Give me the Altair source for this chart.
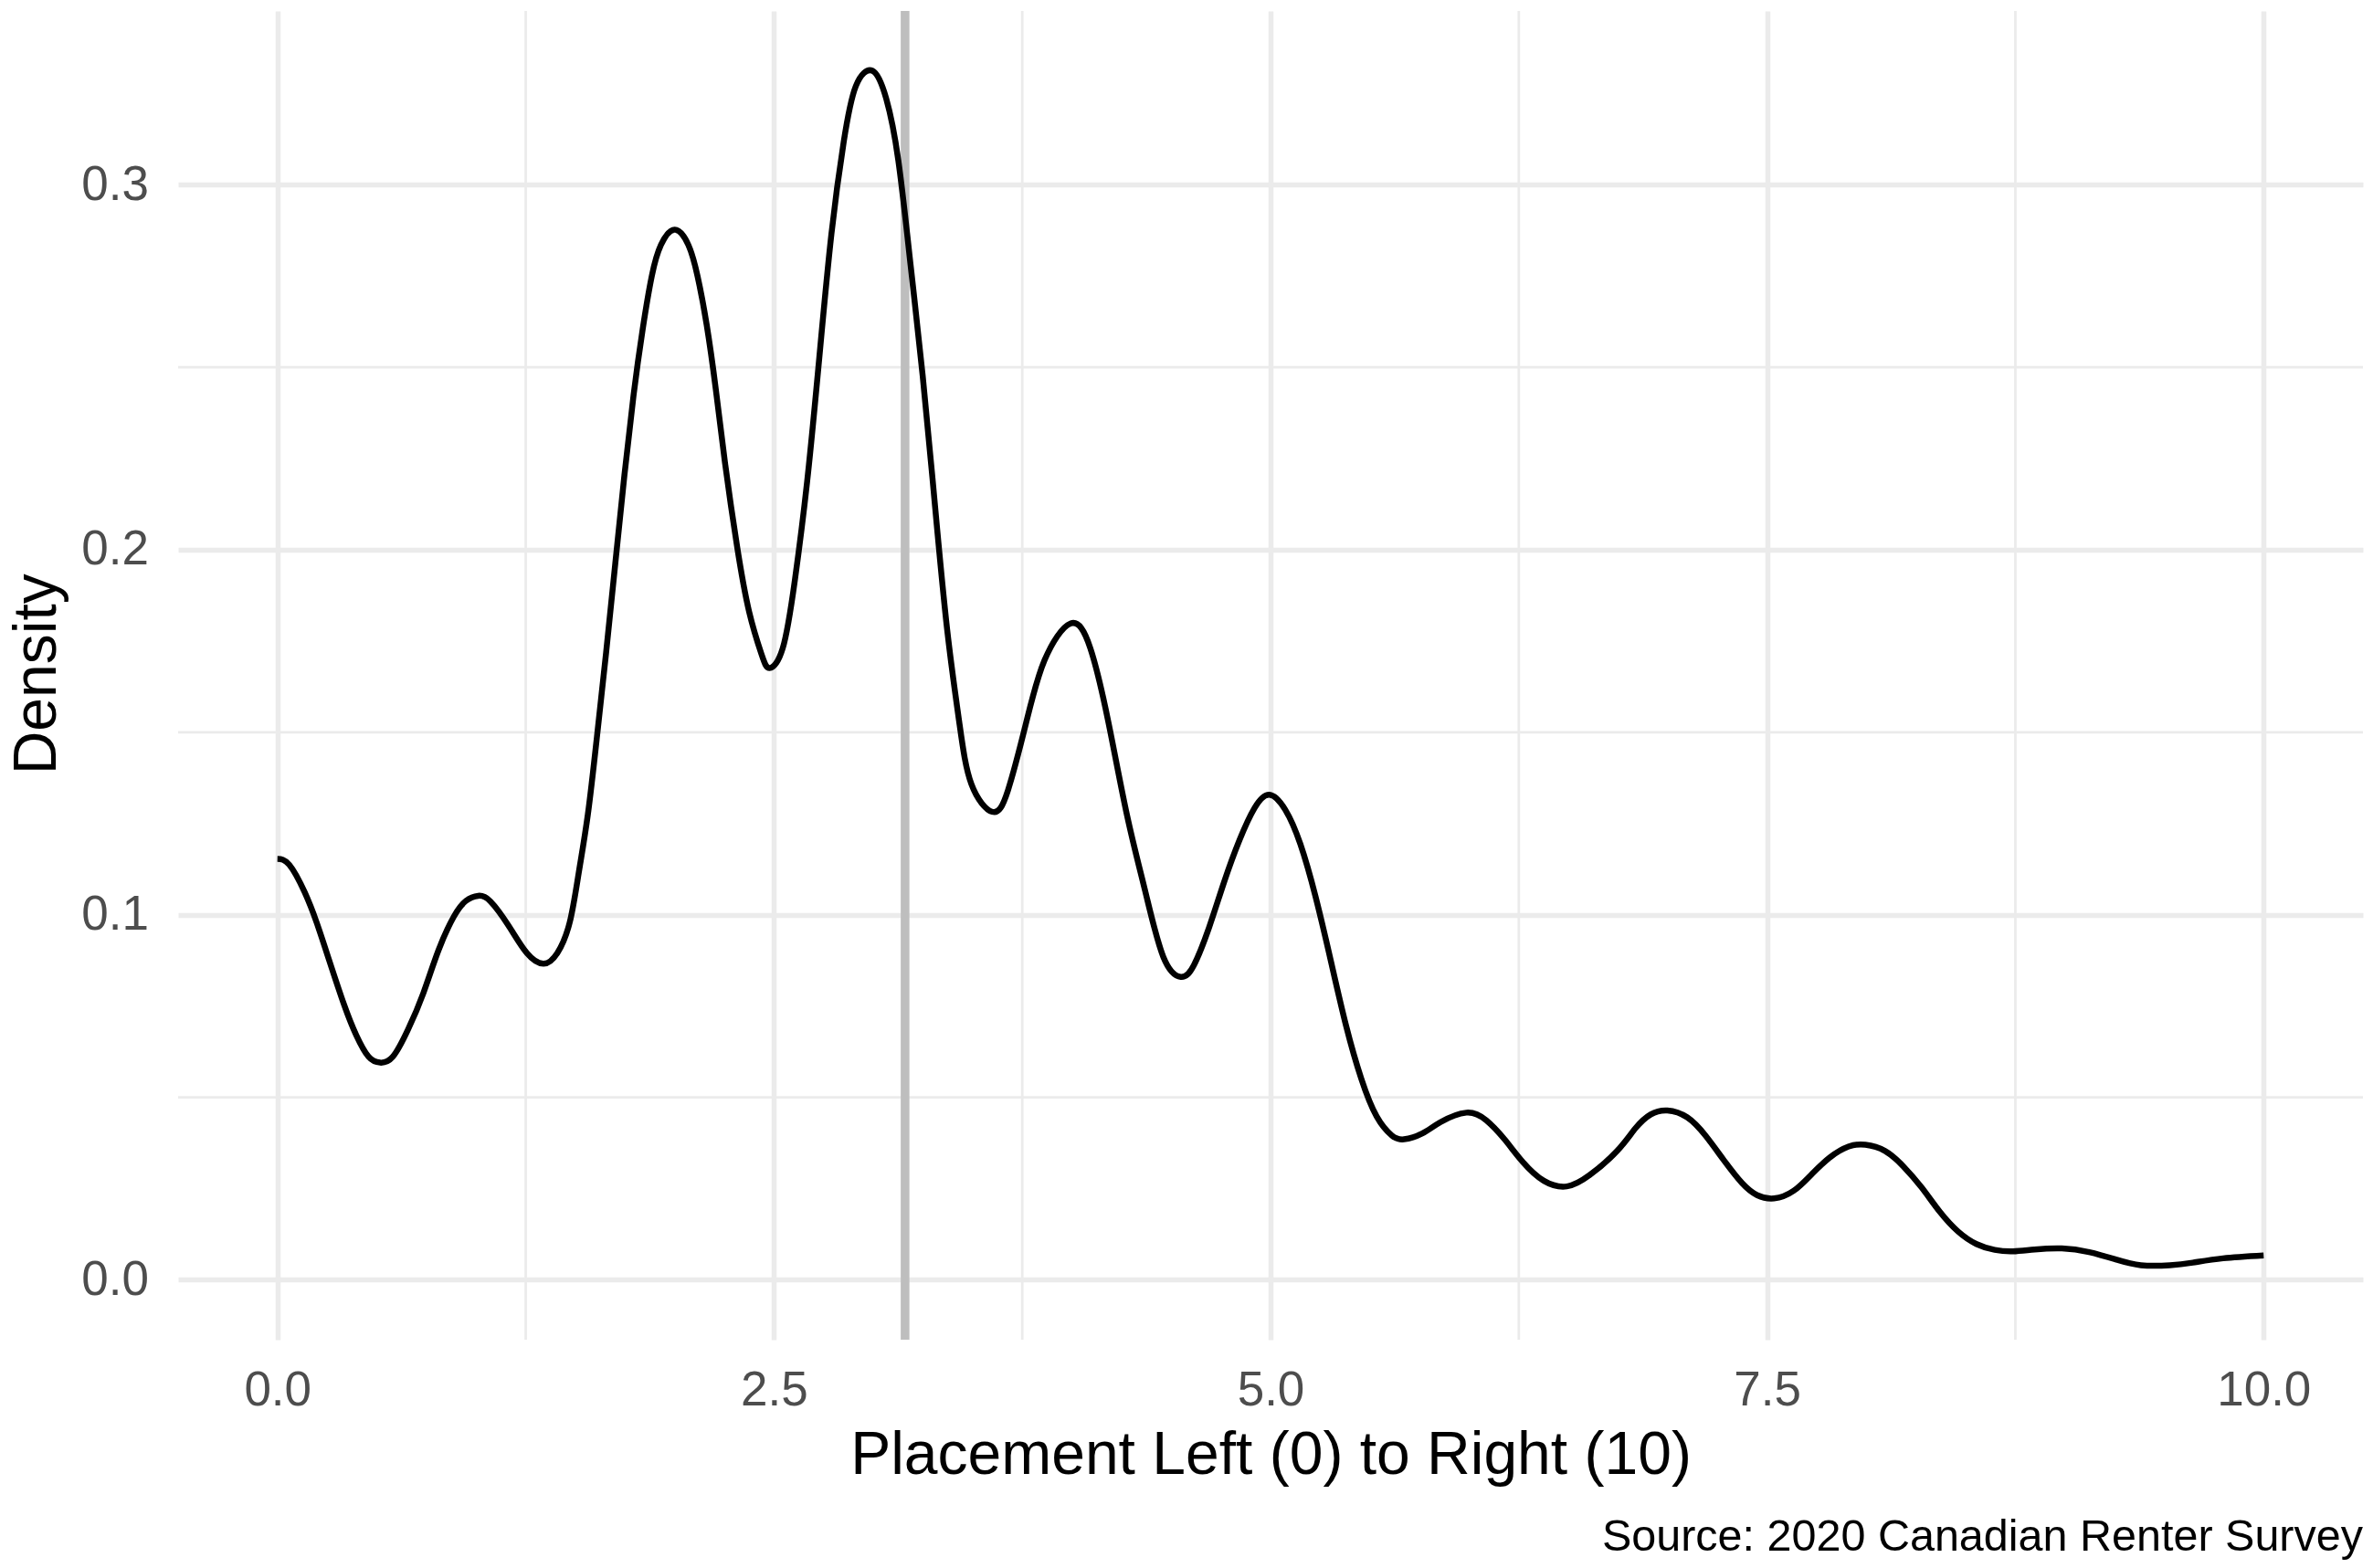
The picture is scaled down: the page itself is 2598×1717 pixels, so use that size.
import altair as alt
import pandas as pd

# ---- data ----
placement = [0.000, 0.060, 0.137, 0.198, 0.259, 0.336, 0.397, 0.459, 0.517, 0.581,
             0.658, 0.735, 0.811, 0.888, 0.949, 1.011, 1.072, 1.164, 1.256, 1.340,
             1.409, 1.471, 1.517, 1.563, 1.609, 1.655, 1.701, 1.747, 1.793, 1.839,
             1.885, 1.931, 2.000, 2.069, 2.115, 2.161, 2.207, 2.253, 2.314, 2.375,
             2.437, 2.478, 2.544, 2.605, 2.667, 2.728, 2.789, 2.851, 2.912, 2.996,
             3.065, 3.126, 3.188, 3.249, 3.311, 3.372, 3.433, 3.494, 3.599, 3.678,
             3.770, 3.862, 3.993, 4.093, 4.184, 4.277, 4.369, 4.460, 4.548, 4.614,
             4.691, 4.767, 4.844, 4.920, 4.994, 5.074, 5.150, 5.227, 5.304, 5.380,
             5.457, 5.534, 5.610, 5.672, 5.764, 5.856, 5.986, 6.086, 6.178, 6.270,
             6.377, 6.492, 6.607, 6.745, 6.837, 6.914, 6.998, 7.098, 7.190, 7.282,
             7.374, 7.450, 7.535, 7.634, 7.726, 7.818, 7.910, 7.995, 8.094, 8.186,
             8.278, 8.370, 8.462, 8.554, 8.646, 8.738, 8.846, 8.984, 9.122, 9.260,
             9.382, 9.528, 9.643, 9.796, 10.000]
density = [0.1153, 0.1137, 0.1062, 0.0978, 0.0878, 0.0753, 0.0670, 0.0611, 0.0595, 0.0611,
           0.0686, 0.0786, 0.0903, 0.0995, 0.1038, 0.1052, 0.1037, 0.0970, 0.0895, 0.0866,
           0.0895, 0.0978, 0.1115, 0.1275, 0.1489, 0.1719, 0.1962, 0.2204, 0.2423, 0.2604,
           0.2750, 0.2835, 0.2877, 0.2835, 0.2750, 0.2617, 0.2440, 0.2240, 0.2010, 0.1830,
           0.1714, 0.1676, 0.1730, 0.1916, 0.2187, 0.2525, 0.2864, 0.3117, 0.3270, 0.3312,
           0.3236, 0.3067, 0.2779, 0.2475, 0.2119, 0.1781, 0.1527, 0.1358, 0.1282, 0.1341,
           0.1527, 0.1697, 0.1798, 0.1730, 0.1527, 0.1274, 0.1065, 0.0885, 0.0830, 0.0862,
           0.0966, 0.1091, 0.1205, 0.1293, 0.1329, 0.1288, 0.1194, 0.1049, 0.0873, 0.0697,
           0.0551, 0.0448, 0.0396, 0.0385, 0.0401, 0.0432, 0.0458, 0.0437, 0.0385, 0.0323,
           0.0271, 0.0256, 0.0287, 0.0353, 0.0415, 0.0453, 0.0464, 0.0445, 0.0395, 0.0328,
           0.0265, 0.0232, 0.0223, 0.0244, 0.0290, 0.0336, 0.0365, 0.0370, 0.0353, 0.0311,
           0.0253, 0.0186, 0.0132, 0.0098, 0.0082, 0.0078, 0.0083, 0.0086, 0.0076, 0.0055,
           0.0040, 0.0040, 0.0047, 0.0059, 0.0067]
reference_line = [3.16]
major_x = [0.0, 2.5, 5.0, 7.5, 10.0]
minor_x = [1.25, 3.75, 6.25, 8.75]
major_y = [0.0, 0.1, 0.2, 0.3]
minor_y = [0.05, 0.15, 0.25]
x_title = "Placement Left (0) to Right (10)"
y_title = "Density"
caption = "Source: 2020 Canadian Renter Survey"

# ---- layout ----
W, H = 2392, 1455
FONT = "Liberation Sans"
GRID = "#EBEBEB"

xscale = alt.Scale(domain=[-0.5, 10.5], nice=False, zero=False)
yscale = alt.Scale(domain=[-0.0164, 0.3476], nice=False, zero=False)

xaxis = alt.Axis(
    values=major_x, format=".1f", title=x_title,
    grid=True, gridColor=GRID, gridWidth=5.5,
    domain=False, ticks=False, tickSize=0,
    labelFont=FONT, labelFontSize=53, labelColor="#4D4D4D",
    labelPadding=29, labelFlush=False, labelOverlap=False,
    titleFont=FONT, titleFontSize=66, titleColor="black", titleFontWeight="normal",
    titleX=W / 2, titleY=146, titleAlign="center", titleBaseline="alphabetic",
)
yaxis = alt.Axis(
    values=major_y, format=".1f", title=y_title,
    grid=True, gridColor=GRID, gridWidth=5.5,
    domain=False, ticks=False, tickSize=0,
    labelFont=FONT, labelFontSize=53, labelColor="#4D4D4D",
    labelPadding=32.5, labelFlush=False, labelOverlap=False,
    titleFont=FONT, titleFontSize=66, titleColor="black", titleFontWeight="normal",
    titleX=-134.5, titleY=725.8, titleAngle=270, titleAlign="center",
    titleBaseline="alphabetic",
)

curve_df = pd.DataFrame({"x": placement, "density": density})

minor_v = alt.Chart(pd.DataFrame({"x": minor_x})).mark_rule(
    color=GRID, strokeWidth=2.8
).encode(x=alt.X("x:Q", scale=xscale, axis=xaxis))

minor_h = alt.Chart(pd.DataFrame({"y": minor_y})).mark_rule(
    color=GRID, strokeWidth=2.8
).encode(y=alt.Y("y:Q", scale=yscale, axis=yaxis))

vline = alt.Chart(pd.DataFrame({"x": reference_line})).mark_rule(
    color="#BEBEBE", strokeWidth=9.5
).encode(x=alt.X("x:Q", scale=xscale, axis=xaxis))

curve = alt.Chart(curve_df).mark_line(
    color="black", strokeWidth=6.5, interpolate="natural",
    strokeJoin="round", strokeCap="butt"
).encode(
    x=alt.X("x:Q", scale=xscale, axis=xaxis),
    y=alt.Y("density:Q", scale=yscale, axis=yaxis),
)

cap = alt.Chart(pd.DataFrame({"t": [caption]})).mark_text(
    align="right", baseline="alphabetic", fontSize=48.5, font=FONT, color="black"
).encode(text="t:N", x=alt.value(W), y=alt.value(1685.6))

chart = alt.layer(minor_v, minor_h, vline, curve, cap).properties(
    width=W, height=H,
    autosize=alt.AutoSizeParams(type="none"),
    padding={"left": 187, "top": 4, "right": 3, "bottom": 242},
    background="white",
).configure_view(stroke=None)

chart.save("out.html", embed_options={"renderer": "svg", "actions": False})
